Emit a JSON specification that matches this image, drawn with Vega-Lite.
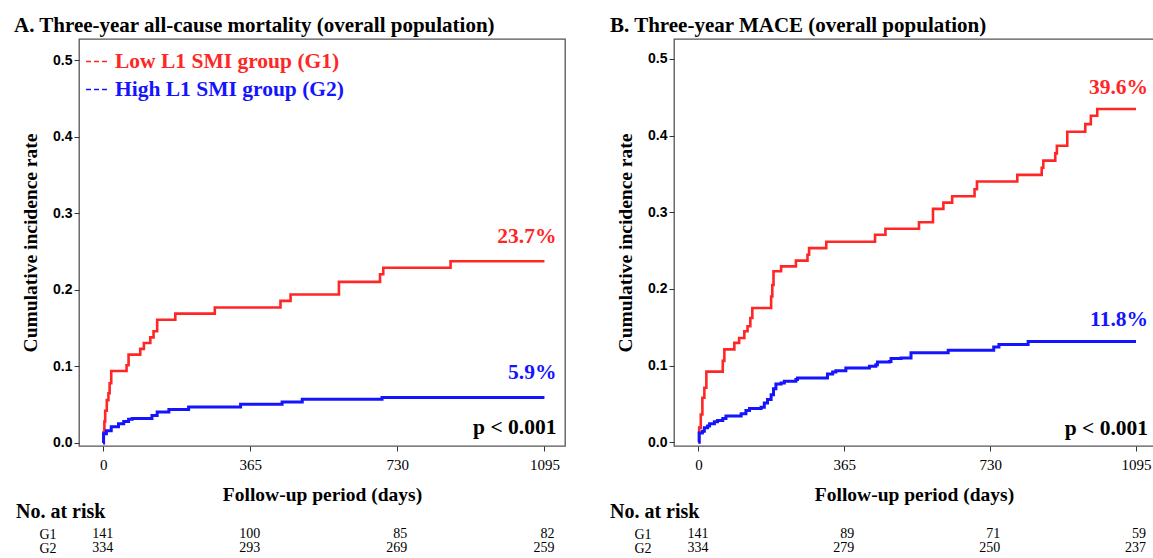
{
  "$schema": "https://vega.github.io/schema/vega-lite/v6.json",
  "background": "white",
  "padding": {"left": 13, "top": 14, "right": 0, "bottom": 0},
  "config": {
    "font": "Liberation Serif",
    "view": {"stroke": "#555555", "strokeWidth": 1.3},
    "axis": {"domain": false, "grid": false, "tickColor": "#333333", "tickSize": 5, "labelColor": "#000000", "titleColor": "#000000", "titleFont": "Liberation Serif", "titleFontWeight": "bold", "titleFontSize": 19.5, "labelFlush": false},
    "axisY": {"labelFont": "Liberation Sans", "labelFontWeight": "bold", "labelFontSize": 14, "labelPadding": 2, "titlePadding": 12},
    "axisX": {"labelFont": "Liberation Serif", "labelFontSize": 15, "labelPadding": 6, "titlePadding": 13, "format": "d"},
    "title": {"font": "Liberation Serif", "fontSize": 21, "fontWeight": "bold", "anchor": "start", "frame": "group", "color": "#000000", "baseline": "alphabetic"},
    "legend": {"title": null, "padding": 0, "symbolType": "stroke", "symbolSize": 441, "symbolStrokeWidth": 1.3, "symbolDash": [5, 3], "labelFont": "Liberation Serif", "labelFontWeight": "bold", "labelFontSize": 21.5, "labelOffset": 7, "labelLimit": 500}
  },
  "datasets": {
    "km": [
      {"panel":"A","group":"G1","day":0,"rate":0},{"panel":"A","group":"G1","day":1,"rate":0.014},{"panel":"A","group":"G1","day":3,"rate":0.028},{"panel":"A","group":"G1","day":5,"rate":0.042},{"panel":"A","group":"G1","day":9,"rate":0.056},{"panel":"A","group":"G1","day":13,"rate":0.065},{"panel":"A","group":"G1","day":16,"rate":0.078},{"panel":"A","group":"G1","day":20,"rate":0.094},{"panel":"A","group":"G1","day":58,"rate":0.1016},{"panel":"A","group":"G1","day":63,"rate":0.1155},{"panel":"A","group":"G1","day":92,"rate":0.123},{"panel":"A","group":"G1","day":101,"rate":0.1307},{"panel":"A","group":"G1","day":117,"rate":0.138},{"panel":"A","group":"G1","day":125,"rate":0.146},{"panel":"A","group":"G1","day":134,"rate":0.161},{"panel":"A","group":"G1","day":179,"rate":0.169},{"panel":"A","group":"G1","day":277,"rate":0.177},{"panel":"A","group":"G1","day":440,"rate":0.1857},{"panel":"A","group":"G1","day":465,"rate":0.194},{"panel":"A","group":"G1","day":585,"rate":0.2105},{"panel":"A","group":"G1","day":687,"rate":0.2205},{"panel":"A","group":"G1","day":695,"rate":0.229},{"panel":"A","group":"G1","day":862,"rate":0.2375},{"panel":"A","group":"G1","day":1095,"rate":0.2375},
      {"panel":"A","group":"G2","day":0,"rate":0},{"panel":"A","group":"G2","day":1,"rate":0.012},{"panel":"A","group":"G2","day":8,"rate":0.016},{"panel":"A","group":"G2","day":20,"rate":0.021},{"panel":"A","group":"G2","day":38,"rate":0.025},{"panel":"A","group":"G2","day":51,"rate":0.028},{"panel":"A","group":"G2","day":63,"rate":0.031},{"panel":"A","group":"G2","day":72,"rate":0.032},{"panel":"A","group":"G2","day":121,"rate":0.036},{"panel":"A","group":"G2","day":134,"rate":0.0405},{"panel":"A","group":"G2","day":163,"rate":0.0436},{"panel":"A","group":"G2","day":212,"rate":0.047},{"panel":"A","group":"G2","day":341,"rate":0.0506},{"panel":"A","group":"G2","day":444,"rate":0.0536},{"panel":"A","group":"G2","day":494,"rate":0.057},{"panel":"A","group":"G2","day":692,"rate":0.0595},{"panel":"A","group":"G2","day":1095,"rate":0.0595},
      {"panel":"B","group":"G1","day":0,"rate":0},{"panel":"B","group":"G1","day":2,"rate":0.019},{"panel":"B","group":"G1","day":6,"rate":0.036},{"panel":"B","group":"G1","day":10,"rate":0.058},{"panel":"B","group":"G1","day":15,"rate":0.071},{"panel":"B","group":"G1","day":20,"rate":0.092},{"panel":"B","group":"G1","day":61,"rate":0.106},{"panel":"B","group":"G1","day":65,"rate":0.121},{"panel":"B","group":"G1","day":90,"rate":0.1296},{"panel":"B","group":"G1","day":102,"rate":0.136},{"panel":"B","group":"G1","day":115,"rate":0.1448},{"panel":"B","group":"G1","day":123,"rate":0.1513},{"panel":"B","group":"G1","day":130,"rate":0.162},{"panel":"B","group":"G1","day":135,"rate":0.175},{"panel":"B","group":"G1","day":182,"rate":0.19},{"panel":"B","group":"G1","day":185,"rate":0.205},{"panel":"B","group":"G1","day":188,"rate":0.2229},{"panel":"B","group":"G1","day":207,"rate":0.2294},{"panel":"B","group":"G1","day":244,"rate":0.2368},{"panel":"B","group":"G1","day":273,"rate":0.2446},{"panel":"B","group":"G1","day":277,"rate":0.2532},{"panel":"B","group":"G1","day":320,"rate":0.2615},{"panel":"B","group":"G1","day":442,"rate":0.2706},{"panel":"B","group":"G1","day":468,"rate":0.2784},{"panel":"B","group":"G1","day":552,"rate":0.287},{"panel":"B","group":"G1","day":587,"rate":0.3044},{"panel":"B","group":"G1","day":613,"rate":0.3125},{"panel":"B","group":"G1","day":635,"rate":0.3209},{"panel":"B","group":"G1","day":691,"rate":0.33},{"panel":"B","group":"G1","day":697,"rate":0.34},{"panel":"B","group":"G1","day":798,"rate":0.3487},{"panel":"B","group":"G1","day":859,"rate":0.358},{"panel":"B","group":"G1","day":863,"rate":0.3673},{"panel":"B","group":"G1","day":893,"rate":0.3768},{"panel":"B","group":"G1","day":897,"rate":0.3868},{"panel":"B","group":"G1","day":923,"rate":0.405},{"panel":"B","group":"G1","day":968,"rate":0.415},{"panel":"B","group":"G1","day":982,"rate":0.4258},{"panel":"B","group":"G1","day":998,"rate":0.4346},{"panel":"B","group":"G1","day":1095,"rate":0.4346},
      {"panel":"B","group":"G2","day":0,"rate":0},{"panel":"B","group":"G2","day":2,"rate":0.012},{"panel":"B","group":"G2","day":10,"rate":0.0144},{"panel":"B","group":"G2","day":15,"rate":0.0187},{"panel":"B","group":"G2","day":23,"rate":0.021},{"panel":"B","group":"G2","day":28,"rate":0.024},{"panel":"B","group":"G2","day":40,"rate":0.0266},{"panel":"B","group":"G2","day":48,"rate":0.0283},{"panel":"B","group":"G2","day":61,"rate":0.031},{"panel":"B","group":"G2","day":69,"rate":0.034},{"panel":"B","group":"G2","day":107,"rate":0.037},{"panel":"B","group":"G2","day":119,"rate":0.0413},{"panel":"B","group":"G2","day":128,"rate":0.0439},{"panel":"B","group":"G2","day":157,"rate":0.0456},{"panel":"B","group":"G2","day":165,"rate":0.0512},{"panel":"B","group":"G2","day":173,"rate":0.0556},{"panel":"B","group":"G2","day":182,"rate":0.062},{"panel":"B","group":"G2","day":188,"rate":0.0698},{"panel":"B","group":"G2","day":194,"rate":0.0759},{"panel":"B","group":"G2","day":207,"rate":0.0772},{"panel":"B","group":"G2","day":215,"rate":0.0794},{"panel":"B","group":"G2","day":244,"rate":0.0816},{"panel":"B","group":"G2","day":248,"rate":0.0837},{"panel":"B","group":"G2","day":323,"rate":0.0889},{"panel":"B","group":"G2","day":336,"rate":0.0915},{"panel":"B","group":"G2","day":344,"rate":0.0933},{"panel":"B","group":"G2","day":369,"rate":0.0968},{"panel":"B","group":"G2","day":428,"rate":0.099},{"panel":"B","group":"G2","day":444,"rate":0.101},{"panel":"B","group":"G2","day":448,"rate":0.1045},{"panel":"B","group":"G2","day":478,"rate":0.1054},{"panel":"B","group":"G2","day":482,"rate":0.109},{"panel":"B","group":"G2","day":507,"rate":0.1097},{"panel":"B","group":"G2","day":532,"rate":0.1166},{"panel":"B","group":"G2","day":625,"rate":0.12},{"panel":"B","group":"G2","day":739,"rate":0.124},{"panel":"B","group":"G2","day":752,"rate":0.1275},{"panel":"B","group":"G2","day":825,"rate":0.1315},{"panel":"B","group":"G2","day":1095,"rate":0.1315}
    ],
    "notes": [
      {"panel":"A","group":"G1","day":1095,"rate":0.2375,"label":"23.7%"},
      {"panel":"A","group":"G2","day":1095,"rate":0.0595,"label":"5.9%"},
      {"panel":"B","group":"G1","day":1095,"rate":0.4346,"label":"39.6%"},
      {"panel":"B","group":"G2","day":1095,"rate":0.1315,"label":"11.8%"}
    ],
    "pvals": [
      {"panel":"A","day":1095,"rate":0.02,"label":"p < 0.001"},
      {"panel":"B","day":1095,"rate":0.017,"label":"p < 0.001"}
    ],
    "risk": [
      {"panel":"A","group":"G1","day":0,"n":141},{"panel":"A","group":"G1","day":365,"n":100},{"panel":"A","group":"G1","day":730,"n":85},{"panel":"A","group":"G1","day":1095,"n":82},
      {"panel":"A","group":"G2","day":0,"n":334},{"panel":"A","group":"G2","day":365,"n":293},{"panel":"A","group":"G2","day":730,"n":269},{"panel":"A","group":"G2","day":1095,"n":259},
      {"panel":"B","group":"G1","day":0,"n":141},{"panel":"B","group":"G1","day":365,"n":89},{"panel":"B","group":"G1","day":730,"n":71},{"panel":"B","group":"G1","day":1095,"n":59},
      {"panel":"B","group":"G2","day":0,"n":334},{"panel":"B","group":"G2","day":365,"n":279},{"panel":"B","group":"G2","day":730,"n":250},{"panel":"B","group":"G2","day":1095,"n":237}
    ]
  },
  "spacing": 43,
  "hconcat": [
    {
      "spacing": -3,
      "vconcat": [
        {
          "title": {"text": "A. Three-year all-cause mortality (overall population)", "dx": -65, "offset": 3},
          "width": 486,
          "height": 407,
          "layer": [
            {
              "data": {"name": "km"},
              "transform": [{"filter": "datum.panel == 'A' && datum.group == 'G1'"}],
              "mark": {"type": "line", "interpolate": "step-after", "strokeWidth": 2.6},
              "encoding": {
                "x": {"field": "day", "type": "quantitative", "scale": {"domain": [-60, 1146], "nice": false, "zero": false}, "axis": {"values": [0, 365, 730, 1095], "title": "Follow-up period (days)"}},
                "y": {"field": "rate", "type": "quantitative", "scale": {"domain": [-0.004, 0.528], "nice": false, "zero": false}, "axis": {"values": [0, 0.1, 0.2, 0.3, 0.4, 0.5], "format": ".1f", "title": "Cumulative incidence rate"}},
                "color": {"field": "group", "type": "nominal", "scale": {"domain": ["G1"], "range": ["#ff2626"]}, "legend": {"orient": "none", "legendX": 6, "legendY": 11, "labelColor": "#ff2626", "labelExpr": "'Low L1 SMI group (G1)'"}}
              }
            },
            {
              "data": {"name": "km"},
              "transform": [{"filter": "datum.panel == 'A' && datum.group == 'G2'"}],
              "mark": {"type": "line", "interpolate": "step-after", "strokeWidth": 3},
              "encoding": {
                "x": {"field": "day", "type": "quantitative"},
                "y": {"field": "rate", "type": "quantitative"},
                "stroke": {"field": "group", "type": "nominal", "scale": {"domain": ["G2"], "range": ["#1414ff"]}, "legend": {"orient": "none", "legendX": 6, "legendY": 39, "labelColor": "#1414ff", "labelExpr": "'High L1 SMI group (G2)'"}}
              }
            },
            {
              "data": {"name": "notes"},
              "transform": [{"filter": "datum.panel == 'A'"}],
              "mark": {"type": "text", "align": "right", "baseline": "middle", "dx": 12, "dy": -24, "fontSize": 21.5, "fontWeight": "bold", "font": "Liberation Serif"},
              "encoding": {
                "x": {"field": "day", "type": "quantitative"},
                "y": {"field": "rate", "type": "quantitative"},
                "text": {"field": "label"},
                "fill": {"field": "group", "type": "nominal", "scale": {"domain": ["G1", "G2"], "range": ["#ff2626", "#1414ff"]}, "legend": null}
              }
            },
            {
              "data": {"name": "pvals"},
              "transform": [{"filter": "datum.panel == 'A'"}],
              "mark": {"type": "text", "align": "right", "baseline": "middle", "dx": 12, "fontSize": 21.5, "fontWeight": "bold", "font": "Liberation Serif", "color": "#000000"},
              "encoding": {
                "x": {"field": "day", "type": "quantitative"},
                "y": {"field": "rate", "type": "quantitative"},
                "text": {"field": "label"}
              }
            }
          ]
        },
        {
          "title": {"text": "No. at risk", "dx": -63, "fontSize": 20, "offset": 5},
          "width": 486,
          "height": 28,
          "view": {"stroke": null},
          "data": {"name": "risk"},
          "transform": [{"filter": "datum.panel == 'A'"}],
          "mark": {"type": "text", "align": "right", "baseline": "middle", "dx": 10, "fontSize": 14, "font": "Liberation Serif", "color": "#000000"},
          "encoding": {
            "x": {"field": "day", "type": "quantitative", "scale": {"domain": [-60, 1146], "nice": false, "zero": false}, "axis": null},
            "y": {"field": "group", "type": "nominal", "sort": ["G1", "G2"], "axis": {"title": null, "domain": false, "ticks": false, "labelFont": "Liberation Serif", "labelFontWeight": "normal", "labelFontSize": 14, "labelPadding": 23}},
            "text": {"field": "n", "type": "quantitative"}
          }
        }
      ]
    },
    {
      "spacing": -3,
      "vconcat": [
        {
          "title": {"text": "B. Three-year MACE (overall population)", "dx": -64, "offset": 3},
          "width": 480,
          "height": 407,
          "layer": [
            {
              "data": {"name": "km"},
              "transform": [{"filter": "datum.panel == 'B' && datum.group == 'G1'"}],
              "mark": {"type": "line", "interpolate": "step-after", "strokeWidth": 2.6},
              "encoding": {
                "x": {"field": "day", "type": "quantitative", "scale": {"domain": [-61, 1140], "nice": false, "zero": false}, "axis": {"values": [0, 365, 730, 1095], "title": "Follow-up period (days)"}},
                "y": {"field": "rate", "type": "quantitative", "scale": {"domain": [-0.005, 0.526], "nice": false, "zero": false}, "axis": {"values": [0, 0.1, 0.2, 0.3, 0.4, 0.5], "format": ".1f", "title": "Cumulative incidence rate"}},
                "color": {"field": "group", "type": "nominal", "scale": {"domain": ["G1"], "range": ["#ff2626"]}, "legend": {"orient": "none", "legendX": 8, "legendY": 12, "labelColor": "#ff2626", "labelExpr": "'Low L1 SMI group (G1)'"}}
              }
            },
            {
              "data": {"name": "km"},
              "transform": [{"filter": "datum.panel == 'B' && datum.group == 'G2'"}],
              "mark": {"type": "line", "interpolate": "step-after", "strokeWidth": 3},
              "encoding": {
                "x": {"field": "day", "type": "quantitative"},
                "y": {"field": "rate", "type": "quantitative"},
                "stroke": {"field": "group", "type": "nominal", "scale": {"domain": ["G2"], "range": ["#1414ff"]}, "legend": {"orient": "none", "legendX": 8, "legendY": 39, "labelColor": "#1414ff", "labelExpr": "'High L1 SMI group (G2)'"}}
              }
            },
            {
              "data": {"name": "notes"},
              "transform": [{"filter": "datum.panel == 'B'"}],
              "mark": {"type": "text", "align": "right", "baseline": "middle", "dx": 12, "dy": -21, "fontSize": 21.5, "fontWeight": "bold", "font": "Liberation Serif"},
              "encoding": {
                "x": {"field": "day", "type": "quantitative"},
                "y": {"field": "rate", "type": "quantitative"},
                "text": {"field": "label"},
                "fill": {"field": "group", "type": "nominal", "scale": {"domain": ["G1", "G2"], "range": ["#ff2626", "#1414ff"]}, "legend": null}
              }
            },
            {
              "data": {"name": "pvals"},
              "transform": [{"filter": "datum.panel == 'B'"}],
              "mark": {"type": "text", "align": "right", "baseline": "middle", "dx": 12, "fontSize": 21.5, "fontWeight": "bold", "font": "Liberation Serif", "color": "#000000"},
              "encoding": {
                "x": {"field": "day", "type": "quantitative"},
                "y": {"field": "rate", "type": "quantitative"},
                "text": {"field": "label"}
              }
            }
          ]
        },
        {
          "title": {"text": "No. at risk", "dx": -64, "fontSize": 20, "offset": 5},
          "width": 480,
          "height": 28,
          "view": {"stroke": null},
          "data": {"name": "risk"},
          "transform": [{"filter": "datum.panel == 'B'"}],
          "mark": {"type": "text", "align": "right", "baseline": "middle", "dx": 10, "fontSize": 14, "font": "Liberation Serif", "color": "#000000"},
          "encoding": {
            "x": {"field": "day", "type": "quantitative", "scale": {"domain": [-61, 1140], "nice": false, "zero": false}, "axis": null},
            "y": {"field": "group", "type": "nominal", "sort": ["G1", "G2"], "axis": {"title": null, "domain": false, "ticks": false, "labelFont": "Liberation Serif", "labelFontWeight": "normal", "labelFontSize": 14, "labelPadding": 23}},
            "text": {"field": "n", "type": "quantitative"}
          }
        }
      ]
    }
  ]
}
